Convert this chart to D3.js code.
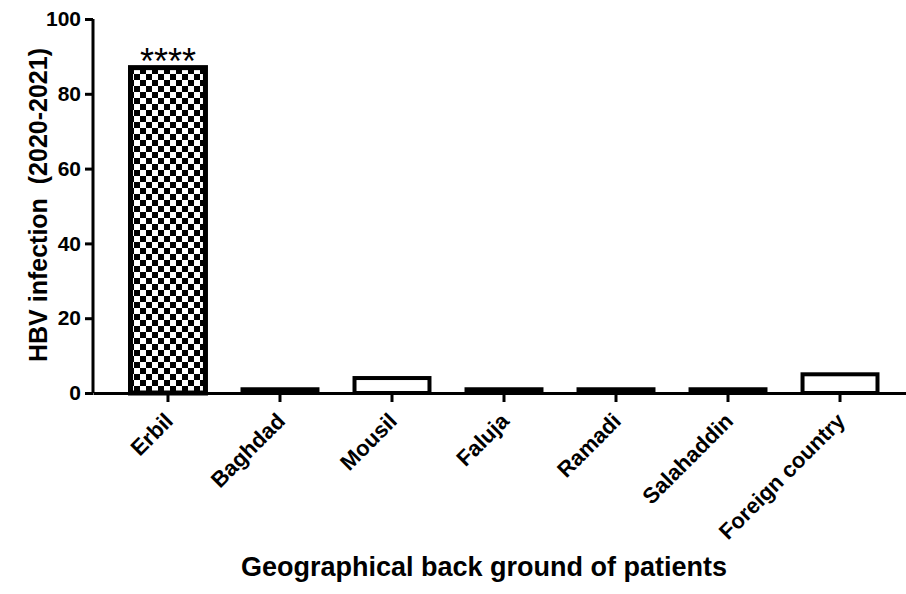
<!DOCTYPE html>
<html>
<head>
<meta charset="utf-8">
<script src="https://cdn.jsdelivr.net/npm/d3@7"></script>
<style>
  body { margin: 0; background: #fff; }
  svg { display: block; font-family: "Liberation Sans", Arial, sans-serif; font-weight: bold; }
</style>
</head>
<body>
<svg id="chart" width="906" height="594"></svg>
<script>
// data
var regions = ["Erbil", "Baghdad", "Mousil", "Faluja", "Ramadi", "Salahaddin", "Foreign country"];
var infections = [87, 1, 4, 1, 1, 1, 5];
var yTicks = [0, 20, 40, 60, 80, 100];
var marks = ["****", "", "", "", "", "", ""];

var margin = { left: 93, top: 19, bottom: 393 };

var svg = d3.select("#chart");

// checkerboard fill for the first bar
var defs = svg.append("defs");
var pat = defs.append("pattern")
    .attr("id", "checker")
    .attr("patternUnits", "userSpaceOnUse")
    .attr("x", 2).attr("y", 2)
    .attr("width", 12).attr("height", 12);
pat.append("rect").attr("width", 12).attr("height", 12).attr("fill", "#fff");
pat.append("rect").attr("width", 6).attr("height", 6).attr("fill", "#000");
pat.append("rect").attr("x", 6).attr("y", 6).attr("width", 6).attr("height", 6).attr("fill", "#000");

var x = d3.scaleBand()
    .domain(regions)
    .range([margin.left, 915])
    .paddingInner(0.295)
    .paddingOuter(0.317);

var y = d3.scaleLinear()
    .domain([0, 100])
    .range([margin.bottom, margin.top]);

// bars
svg.selectAll(".bar")
    .data(regions)
    .enter().append("rect")
    .attr("class", "bar")
    .attr("x", function (d) { return x(d) + 2; })
    .attr("width", x.bandwidth() - 4)
    .attr("y", function (d, i) { return y(infections[i]); })
    .attr("height", function (d, i) { return y(0) - y(infections[i]); })
    .attr("fill", function (d, i) { return i == 0 ? "url(#checker)" : "#fff"; })
    .attr("stroke", "#000")
    .attr("stroke-width", function (d, i) { return i == 0 ? 5 : 4; });

// significance stars
svg.selectAll(".mark")
    .data(regions)
    .enter().append("text")
    .attr("class", "mark")
    .attr("x", function (d) { return x(d) + x.bandwidth() / 2; })
    .attr("y", function (d, i) { return y(infections[i]) + 6; })
    .attr("text-anchor", "middle")
    .style("font-size", "36px")
    .style("font-weight", "normal")
    .text(function (d, i) { return marks[i]; });

// y axis
var gy = svg.append("g")
    .attr("class", "y axis")
    .attr("transform", "translate(" + margin.left + ",0)")
    .call(d3.axisLeft(y).tickValues(yTicks).tickSize(8).tickPadding(4));

// x axis
var gx = svg.append("g")
    .attr("class", "x axis")
    .attr("transform", "translate(0," + margin.bottom + ")")
    .call(d3.axisBottom(x).tickSize(9).tickPadding(4).tickSizeOuter(0));

svg.selectAll(".axis path, .axis line")
    .attr("stroke", "#000")
    .attr("stroke-width", 3);
svg.selectAll(".axis text")
    .attr("fill", "#000")
    .style("font-size", "22px")
    .style("font-family", "Liberation Sans, Arial, sans-serif")
    .style("font-weight", "bold");
gy.selectAll(".tick text").style("font-size", "21px");

gy.select(".domain").attr("d", "M0," + y(100) + "V" + y(0));

gx.selectAll(".tick text")
    .attr("text-anchor", "end")
    .attr("x", 0)
    .attr("y", 0)
    .attr("dy", "0.35em")
    .attr("transform", "translate(1,24) rotate(-45)");

// axis titles
svg.append("text")
    .attr("transform", "translate(47,205) rotate(-90)")
    .attr("text-anchor", "middle")
    .style("font-size", "25px")
    .style("white-space", "pre")
    .text("HBV infection  (2020-2021)");

svg.append("text")
    .attr("x", 484)
    .attr("y", 576)
    .attr("text-anchor", "middle")
    .style("font-size", "27px")
    .text("Geographical back ground of patients");
</script>
</body>
</html>
